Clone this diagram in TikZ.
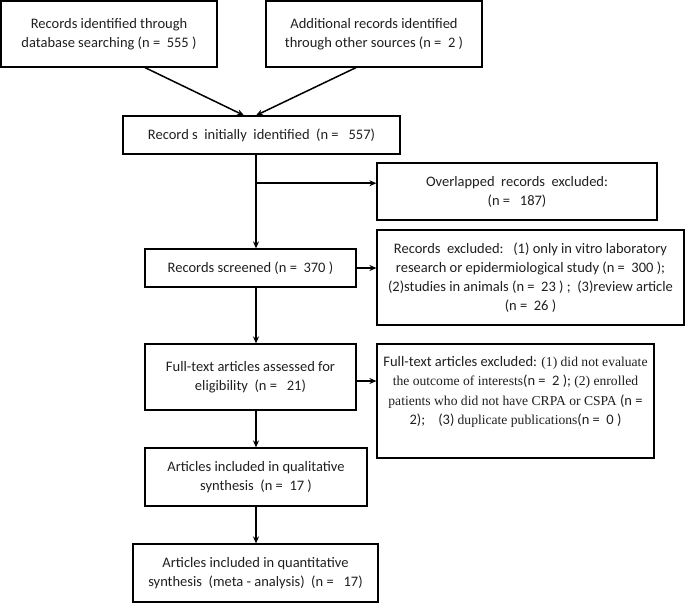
\documentclass[tikz,border=0pt]{standalone}
\usepackage{fontspec}
\setmainfont{Carlito}
\newfontfamily\tms{Liberation Serif}
\usetikzlibrary{arrows.meta,calc}
\tikzset{
  box/.style={draw=black, line width=1.2pt, rectangle, inner sep=0pt, align=center,
    font=\fontsize{14.5}{19}\selectfont, text=black!88},
  conn/.style={draw=black, line width=1.5pt, -{Stealth[length=7pt,width=6pt]}},
}
\newcommand{\tmsf}{\tms\fontsize{13.6}{19.3}\selectfont}
\begin{document}
\begin{tikzpicture}[x=1pt,y=-1pt]
\useasboundingbox (0,0) rectangle (685,603);
\node[box, minimum width=216pt, minimum height=66pt] (A) at (109,34)
  {Records identified through\\database searching (n =\ \ 555 )};
\node[box, minimum width=216pt, minimum height=66pt] (B) at (374,34)
  {Additional records identified\\through other sources (n =\ \ 2 )};
\node[box, minimum width=277pt, minimum height=38pt] (C) at (261.5,135)
  {Record s\ \ initially\ \ identified\ \ (n =\ \ \ 557)};
\node[box, minimum width=280pt, minimum height=57pt] (O) at (517,191.5)
  {Overlapped\ \ records\ \ excluded:\\(n =\ \ \ 187)};
\node[box, minimum width=211pt, minimum height=38pt] (S) at (250.5,268)
  {Records screened (n =\ \ 370 )};
\node[box, minimum width=307pt, minimum height=95pt] (E) at (530.5,277.5)
  {Records\ \ excluded:\ \ \ (1) only in vitro laboratory\\research or epidermiological study (n =\ \ 300 );\\(2)studies in animals (n =\ \ 23 ) ;\ \ (3)review article\\(n =\ \ 26 )};
\node[box, minimum width=211pt, minimum height=66pt] (F) at (250.5,377)
  {Full-text articles assessed for\\eligibility\ \ (n =\ \ \ 21)};
\node[box, minimum width=277pt, minimum height=114pt] (FE) at (515.5,401) {};
\node[align=center, inner sep=0pt, font=\fontsize{14.5}{19.3}\selectfont, text=black!88] (FEt) at (515.5,392)
  {Full-text articles excluded: {\tmsf (1) did not evaluate}\\
   {\tmsf the outcome of interests}(n =\ \ 2 ); {\tmsf (2) enrolled}\\
   {\tmsf patients who did not have CRPA or CSPA} (n =\\
   2);\ \ \ \ (3) {\tmsf duplicate publications}(n =\ \ 0 )};
\node[box, minimum width=222pt, minimum height=58pt] (Q) at (256,477)
  {Articles included in qualitative\\synthesis\ \ (n =\ \ 17 )};
\node[box, minimum width=245pt, minimum height=58pt] (M) at (255.5,573)
  {Articles included in quantitative\\synthesis\ \ (meta - analysis)\ \ (n =\ \ \ 17)};
% connectors
\draw[conn] ([xshift=36pt]A.south) -- ([xshift=-17.5pt]C.north);
\draw[conn] ([xshift=-18pt]B.south) -- ([xshift=-5.5pt]C.north);
\coordinate (br) at ($(C.south)+(-5.5,28.6)$);
\draw[conn] ([xshift=-5.5pt]C.south) -- (S.north -| br);
\draw[conn] (br) -- (br -| O.west);
\draw[conn] (S.east) -- (S.east -| E.west);
\draw[conn] (S.south -| br) -- (F.north -| br);
\draw[conn] ([yshift=-4pt]F.east) -- ([yshift=-4pt]F.east -| FE.west);
\draw[conn] (F.south -| br) -- (Q.north -| br);
\draw[conn] (Q.south -| br) -- (M.north -| br);
\end{tikzpicture}
\end{document}
